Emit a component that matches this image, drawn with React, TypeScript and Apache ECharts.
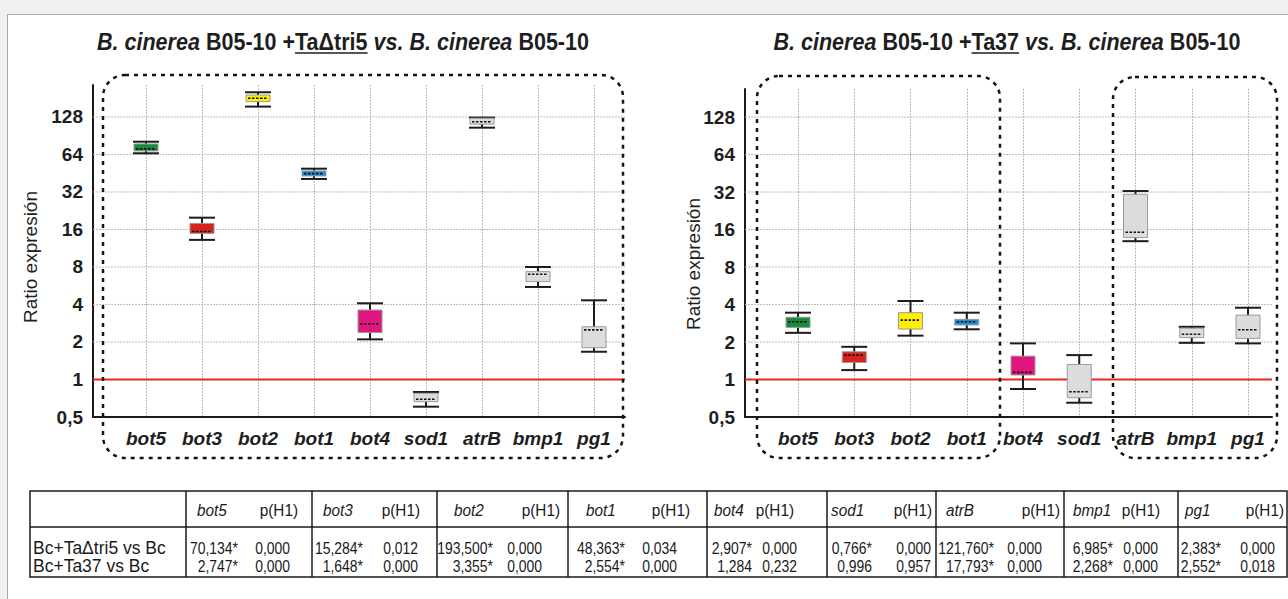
import React, { useEffect, useRef } from 'react';
import * as echarts from 'echarts';

// ---------- data ----------
const GENES = ['bot5', 'bot3', 'bot2', 'bot1', 'bot4', 'sod1', 'atrB', 'bmp1', 'pg1'];
const GENE_COLORS = ['#178b3b', '#d8231f', '#fff000', '#1e8fd3', '#e0167e', '#dcdcdc', '#dcdcdc', '#dcdcdc', '#dcdcdc'];
const Y_TICKS = [0.5, 1, 2, 4, 8, 16, 32, 64, 128];
const GRID_TICKS = [2, 4, 8, 16, 32, 64, 128];
const REFERENCE_RATIO = [1];

// [min, q1, median, q3, max] per gene
const TRI5_STATS = [
  [65.4, 68.3, 71, 77.7, 81],
  [13.2, 14.9, 15.4, 17.9, 19.9],
  [155, 170, 181, 192, 202],
  [40.7, 43, 44.9, 47.2, 49.2],
  [2.1, 2.38, 2.79, 3.61, 4.09],
  [0.605, 0.663, 0.694, 0.775, 0.794],
  [105, 112, 117, 125, 126.5],
  [5.53, 6.1, 6.99, 7.34, 8.0],
  [1.67, 1.8, 2.5, 2.65, 4.32],
];
const TA37_STATS = [
  [2.37, 2.62, 2.91, 3.16, 3.44],
  [1.19, 1.37, 1.57, 1.67, 1.83],
  [2.25, 2.54, 3.0, 3.44, 4.27],
  [2.53, 2.74, 2.91, 3.04, 3.44],
  [0.839, 1.087, 1.14, 1.54, 1.95],
  [0.651, 0.714, 0.798, 1.32, 1.57],
  [12.9, 13.8, 15.2, 30.7, 32.6],
  [1.97, 2.17, 2.31, 2.58, 2.65],
  [1.95, 2.14, 2.51, 3.29, 3.77],
];

const ROW_LABELS = ['Bc+TaΔtri5 vs Bc', 'Bc+Ta37 vs Bc'];
const P_HEADER = 'p(H1)';
const TRI5_RATIO = ['70,134*', '15,284*', '193,500*', '48,363*', '2,907*', '0,766*', '121,760*', '6,985*', '2,383*'];
const TRI5_P = ['0,000', '0,012', '0,000', '0,034', '0,000', '0,000', '0,000', '0,000', '0,000'];
const TA37_RATIO = ['2,747*', '1,648*', '3,355*', '2,554*', '1,284', '0,996', '17,793*', '2,268*', '2,552*'];
const TA37_P = ['0,000', '0,000', '0,000', '0,000', '0,232', '0,957', '0,000', '0,000', '0,018'];

const Y_NAME = 'Ratio expresión';
type Seg = { text: string; italic?: boolean; underline?: boolean; space?: boolean };
const TRI5_TITLE: Seg[] = [
  { text: 'B. cinerea', italic: true },
  { text: 'B05-10 +', space: true },
  { text: 'TaΔtri5', underline: true },
  { text: 'vs. B. cinerea', italic: true, space: true },
  { text: 'B05-10', space: true },
];
const TA37_TITLE: Seg[] = [
  { text: 'B. cinerea', italic: true },
  { text: 'B05-10 +', space: true },
  { text: 'Ta37', underline: true },
  { text: 'vs. B. cinerea', italic: true, space: true },
  { text: 'B05-10', space: true },
];

// ---------- layout ----------
const SANS = "'Liberation Sans', Arial, sans-serif";

const PANELS = [
  { axisLeft: 93, dataLeft: 146, dataRight: 594, right: 625, top: 85, bottom: 417, yMax: 231, stats: TRI5_STATS, title: TRI5_TITLE, titleCx: 343, titleW: 492, yNameX: 30, yNameY: 257 },
  { axisLeft: 745, dataLeft: 798, dataRight: 1248, right: 1272, top: 89, bottom: 417, yMax: 215, stats: TA37_STATS, title: TA37_TITLE, titleCx: 1007, titleW: 0, yNameX: 693, yNameY: 264 },
];
const DASH_BOXES = [
  { x: 103, y: 75, w: 520, h: 383 },
  { x: 757, y: 76, w: 243, h: 382 },
  { x: 1113, y: 77, w: 164, h: 381 },
];
const TABLE = { left: 30, right: 1287, top: 491, headBottom: 527, bottom: 577, headY: 510, row1Y: 548, row2Y: 566 };
const TABLE_SEP = [186, 312, 437, 568, 707, 827, 936, 1064, 1178];
const NAME_L = [197, 323, 454, 586, 714, 831, 946, 1073, 1185];
const PHEAD_R = [298, 420, 560, 690, 794, 932, 1060, 1160, 1284];
const VAL_R = [238, 363, 493, 625, 752, 872, 994, 1113, 1221];
const PVAL_R = [290, 418, 542, 677, 797, 931, 1042, 1158, 1275];
const BOX_W = 26;
const TITLE_FS = 23;
const NUM_FS = 17;
const NUM_SCALE = 0.82;

function measure(text: string, font: string): number {
  const c = document.createElement('canvas').getContext('2d');
  if (!c) return text.length * 10;
  c.font = font;
  return c.measureText(text).width;
}

function fmtTick(v: number): string {
  const l = Math.log2(v);
  if (Math.abs(l - Math.round(l)) > 1e-6) return '';
  return String(v).replace('.', ',');
}

function buildOption() {
  const axFs = 19;

  const titleFont = (italic?: boolean) => `${italic ? 'italic' : 'normal'} bold ${TITLE_FS}px ${SANS}`;
  const segLayout = (segs: Seg[]) => {
    const sp = measure(' ', titleFont());
    let total = 0;
    const xs: number[] = [];
    const ws: number[] = [];
    segs.forEach((s) => {
      if (s.space) total += sp;
      xs.push(total);
      const w = measure(s.text, titleFont(s.italic));
      ws.push(w);
      total += w;
    });
    return { total, xs, ws };
  };
  // horizontal condensing so the left title spans its reference width
  const titleScale = Math.min(1, PANELS[0].titleW / segLayout(TRI5_TITLE).total);

  const grid: any[] = [];
  const xAxis: any[] = [];
  const yAxis: any[] = [];
  const series: any[] = [];
  const graphic: any[] = [];

  const gridLineStyle = { color: '#bdbdbd', width: 1, type: [2, 1] };

  PANELS.forEach((p, pi) => {
    const height = p.bottom - p.top;
    const gAxis = pi * 2;
    const gData = pi * 2 + 1;
    grid.push({ left: p.axisLeft, top: p.top, width: p.right - p.axisLeft, height, containLabel: false, outerBoundsMode: 'none' });
    grid.push({ left: p.dataLeft, top: p.top, width: p.dataRight - p.dataLeft, height, containLabel: false, outerBoundsMode: 'none' });

    xAxis.push({
      gridIndex: gAxis, type: 'value', min: 0, max: 1,
      axisLine: { show: true, onZero: false, lineStyle: { color: '#1a1a1a', width: 2 } },
      axisTick: { show: false }, axisLabel: { show: false }, splitLine: { show: false },
    });
    xAxis.push({
      gridIndex: gData, type: 'category', data: GENES, boundaryGap: false,
      axisLine: { show: false, onZero: false }, axisTick: { show: false },
      splitLine: { show: true, lineStyle: gridLineStyle },
      axisLabel: { interval: 0, margin: 12, color: '#1e1e1e', fontSize: axFs, fontWeight: 'bold', fontStyle: 'italic', fontFamily: SANS },
    });
    yAxis.push({
      gridIndex: gAxis, type: 'log', logBase: 2, min: Y_TICKS[0], max: p.yMax,
      axisLine: { show: true, onZero: false, lineStyle: { color: '#1a1a1a', width: 2 } },
      axisTick: { show: false }, splitLine: { show: false },
      axisLabel: { formatter: fmtTick, showMaxLabel: false, margin: 10, color: '#1e1e1e', fontSize: axFs, fontWeight: 'bold', fontFamily: SANS },
    });
    yAxis.push({
      gridIndex: gData, type: 'log', logBase: 2, min: Y_TICKS[0], max: p.yMax, show: false,
      splitLine: { show: false },
    });

    // horizontal grid lines
    series.push({
      type: 'custom', xAxisIndex: gAxis, yAxisIndex: gAxis, z: 1, silent: true,
      data: GRID_TICKS.map((v) => [0, v]),
      renderItem: (params: any, api: any) => {
        const cs = params.coordSys;
        const y = api.coord([0, api.value(1)])[1];
        return { type: 'line', shape: { x1: cs.x, y1: y, x2: cs.x + cs.width, y2: y }, style: { stroke: '#bdbdbd', lineWidth: 1, lineDash: [2, 1] } };
      },
    });
    // reference ratio line (1)
    series.push({
      type: 'custom', xAxisIndex: gAxis, yAxisIndex: gAxis, z: 2, silent: true,
      data: REFERENCE_RATIO.map((v) => [0, v]),
      renderItem: (params: any, api: any) => {
        const cs = params.coordSys;
        const y = api.coord([0, api.value(1)])[1];
        return { type: 'line', shape: { x1: cs.x, y1: y, x2: cs.x + cs.width, y2: y }, style: { stroke: '#e8261f', lineWidth: 2 } };
      },
    });
    // boxes
    series.push({
      type: 'custom', xAxisIndex: gData, yAxisIndex: gData, z: 3, silent: true, clip: false,
      data: p.stats.map((s, i) => ({ value: [GENES[i], ...s], itemStyle: { color: GENE_COLORS[i] } })),
      renderItem: (params: any, api: any) => {
        const idx = api.value(0);
        const pts = [1, 2, 3, 4, 5].map((d) => api.coord([idx, api.value(d)]));
        const x = pts[0][0];
        const [yMin, yQ1, yMed, yQ3, yMax] = pts.map((q: number[]) => q[1]);
        const h = BOX_W / 2;
        const color = api.visual('color');
        const ink = '#1c1c1c';
        return {
          type: 'group',
          children: [
            { type: 'line', shape: { x1: x, y1: yMax, x2: x, y2: yMin }, style: { stroke: ink, lineWidth: 2 } },
            { type: 'line', shape: { x1: x - h, y1: yMax, x2: x + h, y2: yMax }, style: { stroke: ink, lineWidth: 2 } },
            { type: 'line', shape: { x1: x - h, y1: yMin, x2: x + h, y2: yMin }, style: { stroke: ink, lineWidth: 2 } },
            { type: 'rect', shape: { x: x - h + 1, y: yQ3, width: BOX_W - 2, height: Math.max(1, yQ1 - yQ3) }, style: { fill: color, stroke: '#9a9a9a', lineWidth: 1 } },
            { type: 'line', shape: { x1: x - h + 3, y1: yMed, x2: x + h - 3, y2: yMed }, style: { stroke: '#111', lineWidth: 1.6, lineDash: [2.5, 1.5] } },
          ],
        };
      },
    });

    // title (condensed bold)
    const tl = segLayout(p.title);
    const x0 = p.titleCx - (tl.total * titleScale) / 2;
    const ty = 42;
    p.title.forEach((s, si) => {
      const sx = x0 + tl.xs[si] * titleScale;
      graphic.push({
        type: 'text', x: sx, y: ty, scaleX: titleScale, z: 50,
        style: { text: s.text, fill: '#1e1e1e', fontSize: TITLE_FS, fontWeight: 'bold', fontStyle: s.italic ? 'italic' : 'normal', fontFamily: SANS, align: 'left', verticalAlign: 'middle' },
      });
      if (s.underline) {
        const uy = ty + TITLE_FS * 0.35 + 3;
        graphic.push({ type: 'line', z: 50, shape: { x1: sx, y1: uy, x2: sx + tl.ws[si] * titleScale, y2: uy }, style: { stroke: '#1e1e1e', lineWidth: 1.5 } });
      }
    });

    // y axis name
    graphic.push({
      type: 'text', x: p.yNameX, y: p.yNameY, rotation: Math.PI / 2, z: 50,
      style: { text: Y_NAME, fill: '#1e1e1e', fontSize: 19, fontFamily: SANS, align: 'center', verticalAlign: 'middle' },
    });
  });

  // dotted rounded group boxes
  DASH_BOXES.forEach((b) => {
    graphic.push({
      type: 'rect', z: 60, shape: { x: b.x, y: b.y, width: b.w, height: b.h, r: 22 },
      style: { fill: 'none', stroke: '#141414', lineWidth: 2.5, lineDash: [4, 5] },
    });
  });

  // table
  const T = TABLE;
  const tStroke = { stroke: '#1a1a1a', lineWidth: 1.5 };
  graphic.push({ type: 'rect', z: 40, shape: { x: T.left, y: T.top, width: T.right - T.left, height: T.bottom - T.top }, style: { fill: '#fff', ...tStroke } });
  graphic.push({ type: 'line', z: 41, shape: { x1: T.left, y1: T.headBottom, x2: T.right, y2: T.headBottom }, style: tStroke });
  TABLE_SEP.forEach((sx) => {
    graphic.push({ type: 'line', z: 41, shape: { x1: sx, y1: T.top, x2: sx, y2: T.bottom }, style: tStroke });
  });
  const cellText = (text: string, x: number, y: number, align: string, scale: number, opts: any = {}) => ({
    type: 'text', x, y, z: 42, scaleX: scale,
    style: { text, fill: '#1a1a1a', fontSize: NUM_FS, fontFamily: SANS, align, verticalAlign: 'middle', ...opts },
  });
  graphic.push(cellText(ROW_LABELS[0], 33, T.row1Y, 'left', 1, { fontSize: 17.5 }));
  graphic.push(cellText(ROW_LABELS[1], 33, T.row2Y, 'left', 1, { fontSize: 17.5 }));
  GENES.forEach((g, i) => {
    graphic.push(cellText(g, NAME_L[i], T.headY, 'left', 0.9, { fontStyle: 'italic' }));
    graphic.push(cellText(P_HEADER, PHEAD_R[i], T.headY, 'right', 0.9));
    graphic.push(cellText(TRI5_RATIO[i], VAL_R[i], T.row1Y, 'right', NUM_SCALE));
    graphic.push(cellText(TRI5_P[i], PVAL_R[i], T.row1Y, 'right', NUM_SCALE));
    graphic.push(cellText(TA37_RATIO[i], VAL_R[i], T.row2Y, 'right', NUM_SCALE));
    graphic.push(cellText(TA37_P[i], PVAL_R[i], T.row2Y, 'right', NUM_SCALE));
  });

  return {
    animation: false,
    backgroundColor: 'transparent',
    grid, xAxis, yAxis, series, graphic,
  };
}

export default function App() {
  const ref = useRef<HTMLDivElement>(null);
  useEffect(() => {
    if (!ref.current) return;
    const chart = echarts.init(ref.current, null, { renderer: 'svg' });
    chart.setOption(buildOption() as any);
    return () => chart.dispose();
  }, []);
  return (
    <div style={{ position: 'fixed', left: 0, top: 0, width: 1288, height: 599, background: '#f0f0f0', overflow: 'hidden' }}>
      <div style={{ position: 'absolute', left: 7, top: 14, right: 0, bottom: 0, background: '#ffffff', borderLeft: '1px solid #a8a8a8', borderTop: '1px solid #a8a8a8' }} />
      <div ref={ref} style={{ position: 'absolute', left: 0, top: 0, width: 1288, height: 599 }} />
    </div>
  );
}
